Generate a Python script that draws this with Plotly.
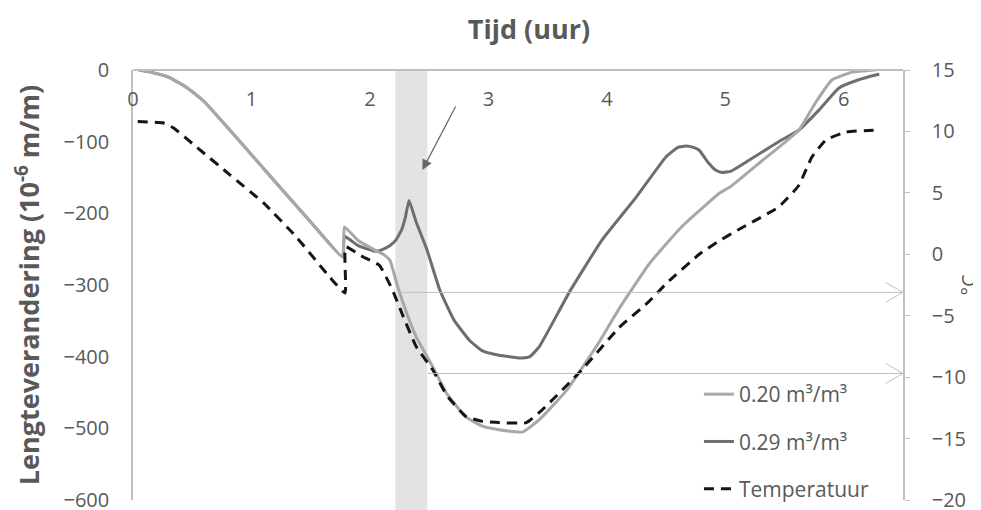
import plotly.graph_objects as go

# ---- data ----
hours_020 = [0.05, 0.15, 0.30, 0.45, 0.60, 1.10, 1.50, 1.77, 1.785, 1.90, 2.05, 2.12, 2.17, 2.23, 2.31,
             2.39, 2.53, 2.65, 2.81, 2.95, 3.09, 3.29, 3.43, 3.66, 3.93, 4.10, 4.36, 4.63, 4.95, 5.05,
             5.30, 5.62, 5.76, 5.90, 6.07, 6.27]
strain_020 = [0, -3, -10, -24, -44, -137, -212, -261, -219, -238, -252, -258, -266, -300, -339,
              -372, -414, -452, -484, -497, -502, -505, -488, -447, -381, -334, -270, -219, -172, -162,
              -128, -84, -46, -14, -3, 0]

hours_029 = [0.05, 0.15, 0.30, 0.45, 0.60, 1.10, 1.50, 1.77, 1.785, 1.90, 2.05, 2.10, 2.17, 2.22, 2.27,
             2.30, 2.33, 2.39, 2.48, 2.59, 2.71, 2.84, 2.95, 3.09, 3.29, 3.35, 3.43, 3.68, 3.96, 4.25,
             4.50, 4.60, 4.67, 4.73, 4.78, 4.85, 4.92, 4.97, 5.05, 5.20, 5.45, 5.62, 5.79, 5.96, 6.12,
             6.27, 6.30]
strain_029 = [0, -3, -10, -24, -44, -137, -212, -261, -232, -245, -253, -251, -245, -237, -222,
              -205, -182, -212, -250, -307, -349, -377, -392, -398, -402, -400, -386, -311, -237, -177,
              -121, -108, -106, -108, -112, -128, -140, -143, -141, -126, -100, -84, -56, -25, -14,
              -7, -6]

hours_temp = [0.04, 0.25, 0.34, 0.54, 0.82, 1.10, 1.38, 1.66, 1.79, 1.795, 1.94, 2.08, 2.19, 2.27,
              2.39, 2.53, 2.65, 2.81, 2.95, 3.09, 3.32, 3.45, 3.79, 4.10, 4.35, 4.50, 4.78, 4.95,
              5.11, 5.45, 5.62, 5.73, 5.85, 6.02, 6.27]
temp = [10.8, 10.7, 10.3, 8.7, 6.45, 4.2, 1.4, -1.85, -3.15, 0.6, -0.2, -0.9, -2.9, -4.8,
        -7.5, -9.4, -11.5, -13.2, -13.6, -13.7, -13.7, -12.7, -9.4, -6.0, -3.9, -2.4, 0.0, 1.1,
        2.0, 3.85, 5.6, 7.9, 9.3, 9.95, 10.1]

x_ticks = [0, 1, 2, 3, 4, 5, 6]
left_ticks = [0, -100, -200, -300, -400, -500, -600]
right_ticks = [15, 10, 5, 0, -5, -10, -15, -20]

band_hours = [2.215, 2.485]          # shaded interval
marker_temps = [-3.1, -9.7]          # horizontal reference arrows (°C)
marker_starts = [2.27, 2.49]         # start hour of those arrows
arrow_tip = [2.443, -139.5]
arrow_tail = [2.73, -48.8]

GREY_TXT = "#595959"
AXIS = "#bfbfbf"
FONT = "Open Sans"

# the page has an 8px body margin, so margins are shifted by 8px
W, H = 981, 510

fig = go.Figure()
fig.add_trace(go.Scatter(x=hours_029, y=strain_029, mode="lines", name="0.29 m³/m³",
                         line=dict(color="#6e6e6e", width=3, shape="spline", smoothing=0.4),
                         legendgroup="b", legendrank=2))
fig.add_trace(go.Scatter(x=hours_020, y=strain_020, mode="lines", name="0.20 m³/m³",
                         line=dict(color="#a8a8a8", width=3, shape="spline", smoothing=0.4),
                         legendgroup="a", legendrank=1))
fig.add_trace(go.Scatter(x=hours_temp, y=temp, mode="lines", name="Temperatuur", yaxis="y2",
                         line=dict(color="#151515", width=3, dash="10px,7px",
                                   shape="spline", smoothing=0.4),
                         legendgroup="c", legendrank=3))

shapes = [dict(type="rect", xref="x", yref="paper", x0=band_hours[0], x1=band_hours[1],
               y0=-0.03, y1=1, fillcolor="#e3e3e3", line=dict(width=0), layer="below")]
for t, s in zip(marker_temps, marker_starts):
    shapes.append(dict(type="line", xref="x", yref="y2", x0=s, x1=6.5, y0=t, y1=t,
                       line=dict(color=AXIS, width=1)))
    shapes.append(dict(type="line", xref="x", yref="y2", x0=6.5 - 0.145, x1=6.5, y0=t + 0.8, y1=t,
                       line=dict(color=AXIS, width=1)))
    shapes.append(dict(type="line", xref="x", yref="y2", x0=6.5 - 0.145, x1=6.5, y0=t - 0.8, y1=t,
                       line=dict(color=AXIS, width=1)))

fig.update_layout(
    width=W, height=H,
    margin=dict(l=125, r=86, t=62, b=18, autoexpand=False),
    plot_bgcolor="white", paper_bgcolor="white",
    font=dict(family=FONT, color=GREY_TXT, size=20),
    title=dict(text="<b>Tijd (uur)</b>", x=521 / W, xanchor="center", y=1 - 22 / H,
               yanchor="middle", font=dict(size=27, color=GREY_TXT, family=FONT)),
    xaxis=dict(range=[0, 6.5], side="bottom", anchor="free", position=1.0, tickvals=x_ticks,
               showline=True, linecolor=AXIS, linewidth=1.5, ticks="", showgrid=False,
               zeroline=False, ticklabelstandoff=11, automargin=False,
               tickfont=dict(size=20, color=GREY_TXT)),
    yaxis=dict(range=[-600, 0], tickvals=left_ticks, showline=True, linecolor=AXIS, linewidth=1.5,
               ticks="", showgrid=False, zeroline=False, ticklabelstandoff=18, automargin=False,
               ticklabeloverflow="allow",
               tickfont=dict(size=20, color=GREY_TXT),
               title=dict(text="<b>Lengteverandering (10<sup>-6</sup> m/m)</b>",
                          font=dict(size=27, color=GREY_TXT), standoff=24)),
    yaxis2=dict(range=[-20, 15], tickvals=right_ticks, overlaying="y", side="right",
                showline=True, linecolor=AXIS, linewidth=1.5, ticks="outside", ticklen=5,
                tickcolor=AXIS, showgrid=False, zeroline=False, automargin=False,
                ticklabelstandoff=18, ticklabeloverflow="allow",
                tickfont=dict(size=20, color=GREY_TXT)),
    legend=dict(x=0.735, y=0.293, xanchor="left", yanchor="top", bgcolor="rgba(0,0,0,0)",
                traceorder="grouped", tracegroupgap=17, font=dict(size=21, color=GREY_TXT)),
    shapes=shapes,
    annotations=[
        dict(x=arrow_tip[0], y=arrow_tip[1], xref="x", yref="y",
             ax=arrow_tail[0], ay=arrow_tail[1], axref="x", ayref="y", text="",
             showarrow=True, arrowhead=2, arrowsize=1.7, arrowwidth=1.2, arrowcolor="#666666"),
        dict(text="°C", xref="paper", yref="paper", x=1.085, y=0.5, xanchor="center",
             yanchor="middle", textangle=-90, showarrow=False,
             font=dict(size=20, color=GREY_TXT)),
    ],
)

fig.write_html("out.html")
